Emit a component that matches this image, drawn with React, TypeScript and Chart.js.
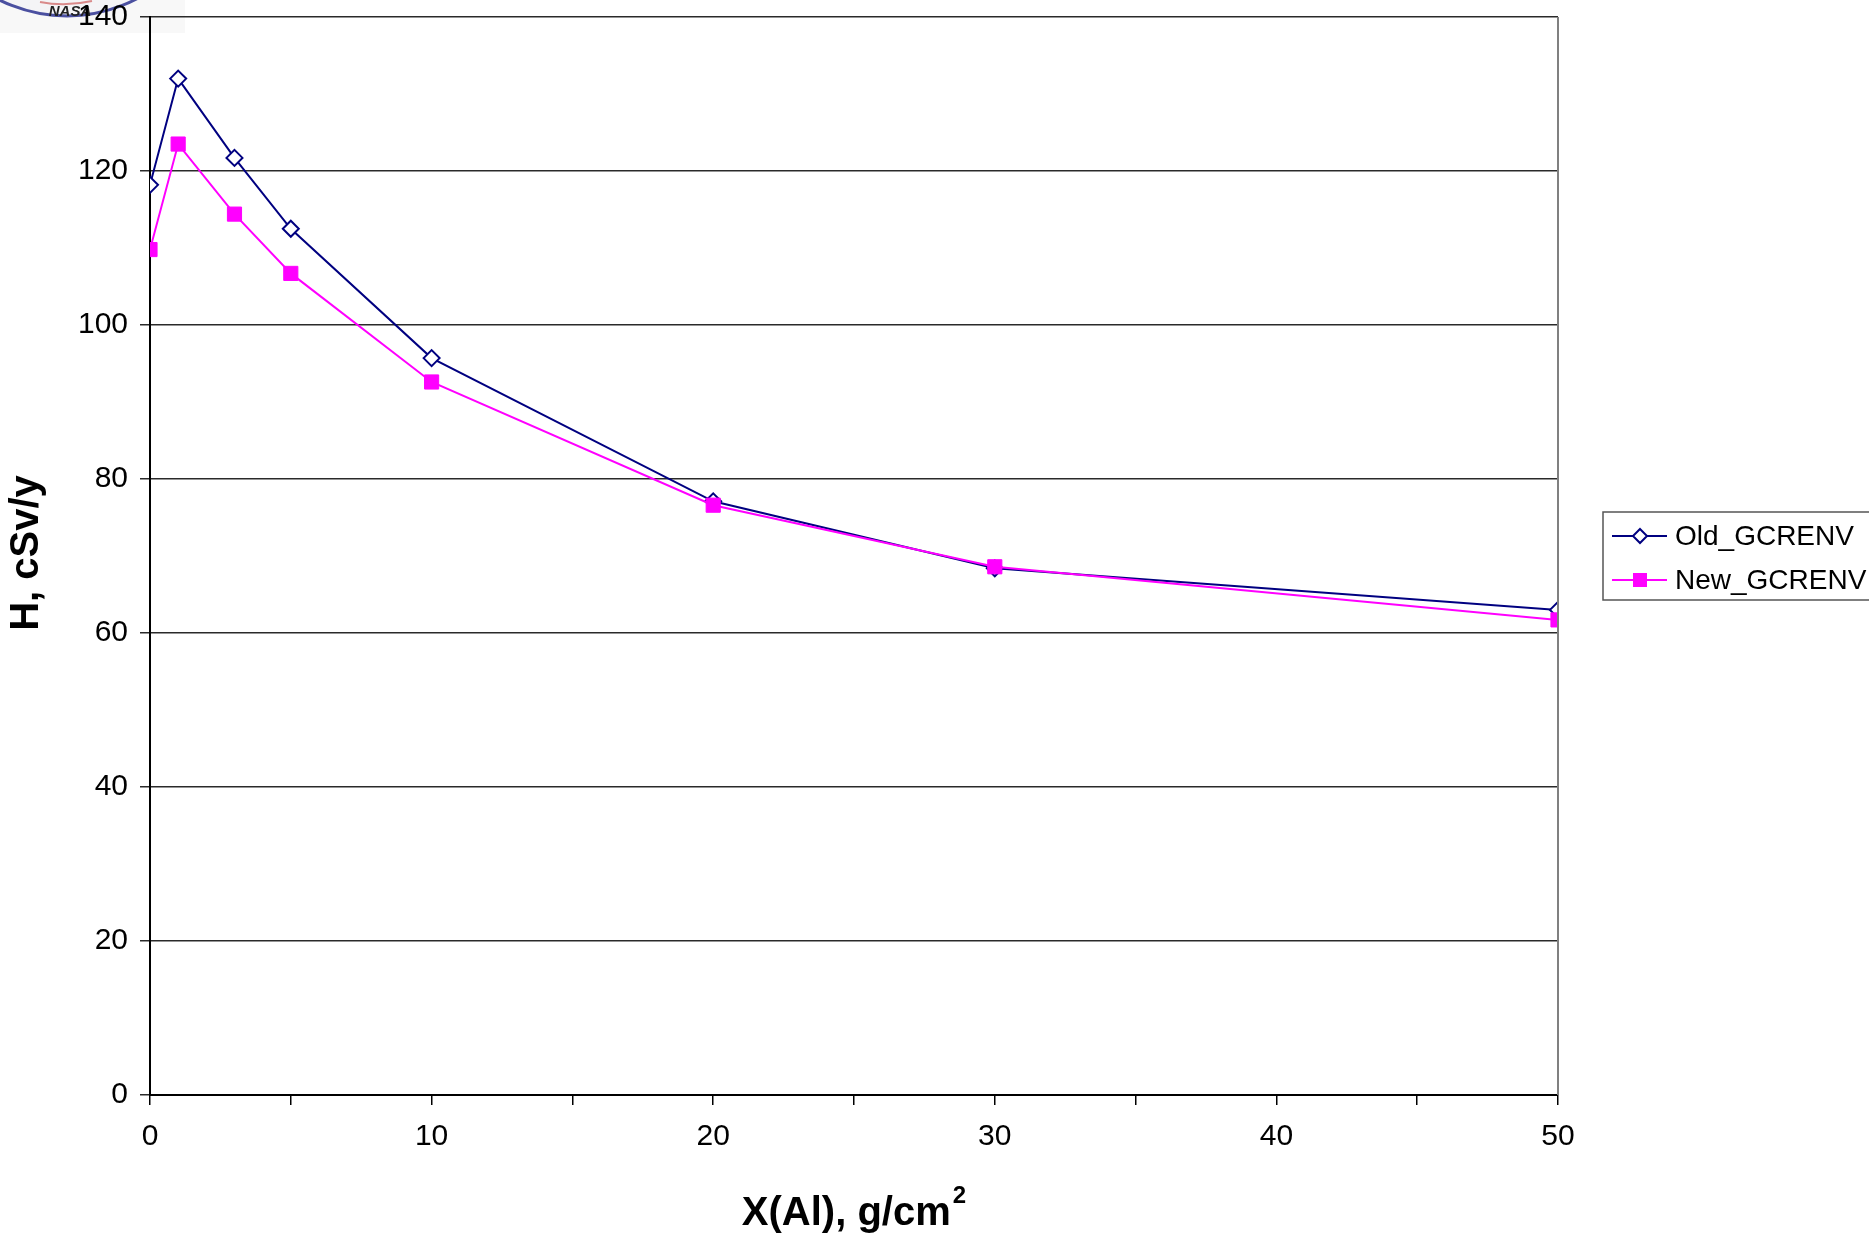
import React, { useEffect, useRef } from "react";
import { Chart, registerables } from "chart.js";

Chart.register(...registerables);

const xValues = [0, 1, 3, 5, 10, 20, 30, 50];
const oldValues = [118.2, 132.0, 121.7, 112.5, 95.7, 77.1, 68.4, 63.0];
const newValues = [109.8, 123.5, 114.4, 106.7, 92.6, 76.6, 68.6, 61.7];
const seriesNames = ["Old_GCRENV", "New_GCRENV"];
const yTitle = "H, cSv/y";
const xTitleMain = "X(Al), g/cm";
const xTitleSup = "2";

const FONT = "'Liberation Sans', Arial, sans-serif";
const OLD_COLOR = "#000080";
const NEW_COLOR = "#FF00FF";

const decorPlugin = {
  id: "decor",
  beforeDraw(chart: any) {
    const ctx = chart.ctx;
    ctx.save();
    // logo (partially visible in top-left corner)
    ctx.fillStyle = "#f8f8f8";
    ctx.fillRect(0, 0, 185, 33);
    ctx.beginPath();
    ctx.arc(67, -134, 150, 0, Math.PI * 2);
    ctx.fillStyle = "#f4f4f6";
    ctx.fill();
    ctx.lineWidth = 3;
    ctx.strokeStyle = "#4b50a0";
    ctx.stroke();
    ctx.beginPath();
    ctx.moveTo(40, 2);
    ctx.quadraticCurveTo(65, 7, 92, 1);
    ctx.strokeStyle = "#d98a8a";
    ctx.lineWidth = 2;
    ctx.stroke();
    ctx.fillStyle = "#222";
    ctx.font = `italic bold 15px ${FONT}`;
    ctx.textAlign = "center";
    ctx.textBaseline = "middle";
    ctx.fillText("NASA", 70, 12);
    ctx.restore();
  },
  afterDraw(chart: any) {
    const ctx = chart.ctx;
    const area = chart.chartArea;
    ctx.save();
    // right border of plot area
    ctx.strokeStyle = "#808080";
    ctx.lineWidth = 2;
    ctx.beginPath();
    ctx.moveTo(area.right, area.top);
    ctx.lineTo(area.right, area.bottom);
    ctx.stroke();

    // y title
    ctx.fillStyle = "#000";
    ctx.font = `bold 40px ${FONT}`;
    ctx.textAlign = "center";
    ctx.textBaseline = "middle";
    ctx.save();
    ctx.translate(27, 553);
    ctx.rotate(-Math.PI / 2);
    ctx.fillText(yTitle, 0, 0);
    ctx.restore();

    // x title with superscript
    ctx.font = `bold 40px ${FONT}`;
    const mainW = ctx.measureText(xTitleMain).width;
    ctx.font = `bold 24px ${FONT}`;
    const supW = ctx.measureText(xTitleSup).width;
    const total = mainW + supW + 2;
    const cx = (area.left + area.right) / 2;
    const startX = cx - total / 2;
    ctx.textAlign = "left";
    ctx.textBaseline = "alphabetic";
    ctx.font = `bold 40px ${FONT}`;
    ctx.fillText(xTitleMain, startX, 1225);
    ctx.font = `bold 24px ${FONT}`;
    ctx.fillText(xTitleSup, startX + mainW + 2, 1203);

    // legend
    const lx = 1603, ly = 512, lw = 270, lh = 88;
    ctx.fillStyle = "#fff";
    ctx.fillRect(lx, ly, lw, lh);
    ctx.strokeStyle = "#555";
    ctx.lineWidth = 1.5;
    ctx.strokeRect(lx, ly, lw, lh);
    const rows = [
      { name: seriesNames[0], color: OLD_COLOR, style: "diamond", y: 536 },
      { name: seriesNames[1], color: NEW_COLOR, style: "square", y: 580 },
    ];
    rows.forEach((r) => {
      ctx.strokeStyle = r.color;
      ctx.lineWidth = 2;
      ctx.beginPath();
      ctx.moveTo(1612, r.y);
      ctx.lineTo(1667, r.y);
      ctx.stroke();
      if (r.style === "diamond") {
        ctx.beginPath();
        ctx.moveTo(1640, r.y - 7);
        ctx.lineTo(1647, r.y);
        ctx.lineTo(1640, r.y + 7);
        ctx.lineTo(1633, r.y);
        ctx.closePath();
        ctx.fillStyle = "#fff";
        ctx.fill();
        ctx.stroke();
      } else {
        ctx.fillStyle = r.color;
        ctx.fillRect(1633, r.y - 7, 14, 14);
      }
      ctx.fillStyle = "#000";
      ctx.font = `28px ${FONT}`;
      ctx.textAlign = "left";
      ctx.textBaseline = "middle";
      ctx.fillText(r.name, 1675, r.y + 1);
    });
    ctx.restore();
  },
};

export default function App() {
  const canvasRef = useRef<HTMLCanvasElement>(null);

  useEffect(() => {
    const canvas = canvasRef.current;
    if (!canvas) return;
    const chart = new Chart(canvas, {
      type: "line",
      data: {
        datasets: [
          {
            label: seriesNames[0],
            data: xValues.map((x, i) => ({ x, y: oldValues[i] })),
            borderColor: OLD_COLOR,
            backgroundColor: "#ffffff",
            borderWidth: 2,
            pointStyle: "rectRot",
            pointRadius: 8,
            pointBorderWidth: 2,
            pointBackgroundColor: "#ffffff",
            pointBorderColor: OLD_COLOR,
            tension: 0,
            order: 1,
          },
          {
            label: seriesNames[1],
            data: xValues.map((x, i) => ({ x, y: newValues[i] })),
            borderColor: NEW_COLOR,
            backgroundColor: NEW_COLOR,
            borderWidth: 2,
            pointStyle: "rect",
            pointRadius: 10,
            pointBorderWidth: 1,
            pointBackgroundColor: NEW_COLOR,
            pointBorderColor: NEW_COLOR,
            tension: 0,
            order: 0,
          },
        ],
      },
      options: {
        responsive: false,
        animation: false,
        devicePixelRatio: 1,
        layout: { padding: { top: 17, right: 311, bottom: 0, left: 0 } },
        plugins: {
          legend: { display: false },
          tooltip: { enabled: false },
          title: { display: false },
        },
        scales: {
          x: {
            type: "linear",
            min: 0,
            max: 50,
            afterFit: (scale: any) => {
              scale.height = 140;
              scale.paddingLeft = 0;
              scale.paddingRight = 0;
            },
            ticks: {
              stepSize: 5,
              autoSkip: false,
              maxRotation: 0,
              color: "#000",
              font: { family: FONT, size: 30 },
              padding: 14,
              callback: (v: any) => (Number(v) % 10 === 0 ? String(v) : ""),
            },
            grid: {
              drawOnChartArea: false,
              drawTicks: true,
              tickLength: 10,
              color: "#000",
              lineWidth: 1.5,
            },
            border: { display: true, color: "#000", width: 2 },
          },
          y: {
            type: "linear",
            min: 0,
            max: 140,
            afterFit: (scale: any) => {
              scale.width = 150;
              scale.paddingTop = 0;
              scale.paddingBottom = 0;
            },
            ticks: {
              stepSize: 20,
              color: "#000",
              font: { family: FONT, size: 30 },
              padding: 12,
            },
            grid: {
              color: "#2a2a2a",
              lineWidth: 1.5,
              drawTicks: true,
              tickLength: 10,
            },
            border: { display: true, color: "#000", width: 2 },
          },
        },
      },
      plugins: [decorPlugin],
    } as any);
    return () => chart.destroy();
  }, []);

  return (
    <div style={{ position: "absolute", left: 0, top: 0, width: 1869, height: 1235, background: "#fff" }}>
      <canvas ref={canvasRef} width={1869} height={1235} style={{ width: 1869, height: 1235, display: "block" }} />
    </div>
  );
}
